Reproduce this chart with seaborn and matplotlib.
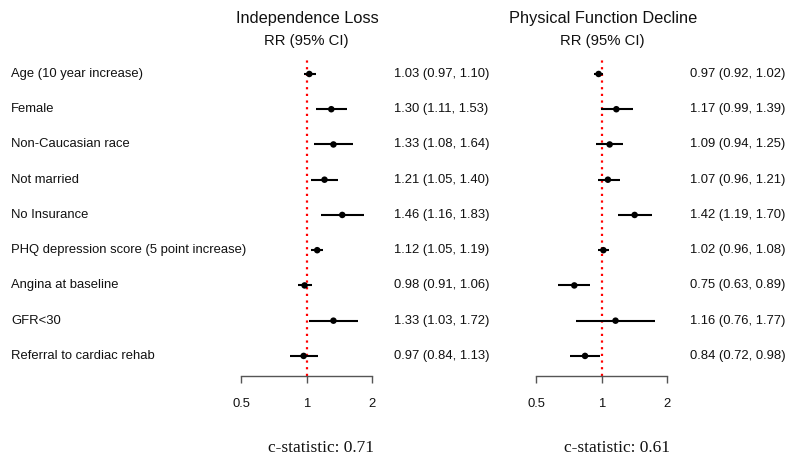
import matplotlib
matplotlib.use("Agg")
import matplotlib.pyplot as plt
import matplotlib.transforms as mtransforms
from matplotlib.ticker import NullLocator, FixedLocator, FixedFormatter
import seaborn as sns
import pandas as pd
import numpy as np

labels = ["Age (10 year increase)", "Female", "Non-Caucasian race", "Not married",
          "No Insurance", "PHQ depression score (5 point increase)", "Angina at baseline",
          "GFR<30", "Referral to cardiac rehab"]

il_rr = [1.03, 1.30, 1.33, 1.21, 1.46, 1.12, 0.98, 1.33, 0.97]
il_lo = [0.97, 1.11, 1.08, 1.05, 1.16, 1.05, 0.91, 1.03, 0.84]
il_hi = [1.10, 1.53, 1.64, 1.40, 1.83, 1.19, 1.06, 1.72, 1.13]

pf_rr = [0.97, 1.17, 1.09, 1.07, 1.42, 1.02, 0.75, 1.16, 0.84]
pf_lo = [0.92, 0.99, 0.94, 0.96, 1.19, 0.96, 0.63, 0.76, 0.72]
pf_hi = [1.02, 1.39, 1.25, 1.21, 1.70, 1.08, 0.89, 1.77, 0.98]

panel_titles = ["Independence Loss", "Physical Function Decline"]
c_stats = ["c-statistic: 0.71", "c-statistic: 0.61"]
tick_vals = [0.5, 1, 2]
tick_labels = ["0.5", "1", "2"]

sns.set_style("white")
plt.rcParams["font.family"] = ["Liberation Sans", "DejaVu Sans"]

W, H = 791, 462
fig = plt.figure(figsize=(W / 100, H / 100), dpi=100)

def fx(px):
    return px / W

def fy(py):
    return 1 - py / H

panels = [
    dict(rr=il_rr, lo=il_lo, hi=il_hi, left=241, center=306, txt=395),
    dict(rr=pf_rr, lo=pf_lo, hi=pf_hi, left=536, center=602, txt=691),
]

fs = 9.4
for i, p in enumerate(panels):
    ax = fig.add_axes([fx(p["left"]), fy(376), fx(131), 320 / H])
    df = pd.DataFrame({"row": np.arange(len(labels)), "rr": p["rr"],
                       "lo": p["lo"], "hi": p["hi"]})
    ax.set_xscale("log")
    ax.set_xlim(0.5, 2)
    ax.set_ylim(8.57, -0.51)
    ax.axvline(1, color="red", lw=1.6, linestyle=(0, (1, 2.0)), zorder=1,
               dash_capstyle="butt")
    ax.hlines(df["row"], df["lo"], df["hi"], color="black", lw=1.5, zorder=2,
              clip_on=False)
    sns.scatterplot(data=df, x="rr", y="row", ax=ax, color="black", s=22,
                    edgecolor="none", zorder=3, clip_on=False, legend=False)
    ax.set_xlabel("")
    ax.set_ylabel("")
    ax.set_yticks([])
    for s in ["top", "left", "right"]:
        ax.spines[s].set_visible(False)
    ax.spines["bottom"].set_color("#555555")
    ax.spines["bottom"].set_linewidth(1.0)
    ax.xaxis.set_minor_locator(NullLocator())
    ax.xaxis.set_major_locator(FixedLocator(tick_vals))
    ax.xaxis.set_major_formatter(FixedFormatter(tick_labels))
    ax.tick_params(axis="x", direction="out", length=5, width=1.0,
                   color="#555555", labelsize=fs, pad=10.5, bottom=True,
                   labelcolor="#111111")
    ax.set_facecolor("none")

    trans = mtransforms.blended_transform_factory(fig.transFigure, ax.transData)
    for r in range(len(labels)):
        txt = f"{p['rr'][r]:.2f} ({p['lo'][r]:.2f}, {p['hi'][r]:.2f})"
        ax.text(fx(p["txt"] - 1), r, txt, transform=trans, ha="left",
                va="center", fontsize=fs, color="#111111")
        if i == 0:
            ax.text(fx(11), r, labels[r], transform=trans, ha="left",
                    va="center", fontsize=fs, color="#111111")

    fig.text(fx(p["center"] + 1), fy(18), panel_titles[i], ha="center",
             va="center", fontsize=11.8, color="#111111")
    fig.text(fx(p["center"]), fy(41), "RR (95% CI)", ha="center",
             va="center", fontsize=10.7, color="#111111")
    fig.text(fx(p["center"] + 15), fy(448), c_stats[i], ha="center",
             va="center", fontsize=12.5, color="#111111",
             family=["Liberation Serif", "DejaVu Serif"])

fig.savefig("out.png", dpi=100)
